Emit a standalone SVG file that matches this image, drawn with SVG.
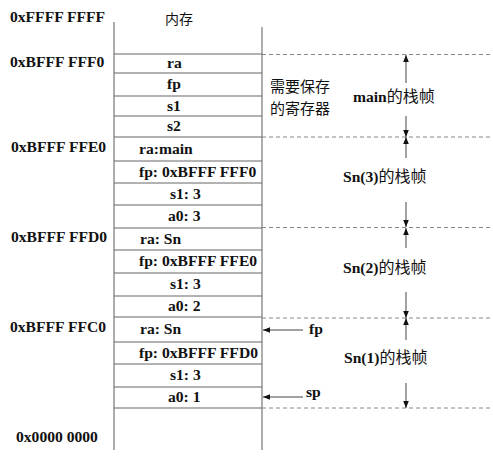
<svg xmlns="http://www.w3.org/2000/svg" width="493" height="457" viewBox="0 0 493 457">
<defs>
<style>
.t{font-family:"Liberation Serif","Noto Sans CJK SC",serif;font-size:15.6px;font-weight:bold;fill:#111}
.c{font-family:"Noto Sans CJK SC",serif;font-weight:normal;fill:#111}
.v{stroke:#777;stroke-width:1.2;fill:none}
.h{stroke:#666;stroke-width:1;fill:none}
.d{stroke:#888;stroke-width:1;stroke-dasharray:4,3;fill:none}
.a{stroke:#444;stroke-width:1;fill:none}
</style>
<marker id="ah" viewBox="0 0 10 10" refX="10" refY="5" markerWidth="7" markerHeight="7" orient="auto-start-reverse" markerUnits="userSpaceOnUse">
<path d="M0,1 L10,5 L0,9 Z" fill="#111"/>
</marker>
</defs>
<rect width="493" height="457" fill="#fff"/>
<g id="memory">
<line class="v" x1="114" y1="22" x2="114" y2="450"/>
<line class="v" x1="262" y1="27" x2="262" y2="450"/>
<g class="h">
<line x1="114" y1="54" x2="262" y2="54"/>
<line x1="114" y1="73" x2="262" y2="73"/>
<line x1="114" y1="96" x2="262" y2="96"/>
<line x1="114" y1="116" x2="262" y2="116"/>
<line x1="114" y1="137" x2="262" y2="137"/>
<line x1="114" y1="161" x2="262" y2="161"/>
<line x1="114" y1="183" x2="262" y2="183"/>
<line x1="114" y1="205" x2="262" y2="205"/>
<line x1="114" y1="228" x2="262" y2="228"/>
<line x1="114" y1="250" x2="262" y2="250"/>
<line x1="114" y1="273" x2="262" y2="273"/>
<line x1="114" y1="296" x2="262" y2="296"/>
<line x1="114" y1="317" x2="262" y2="317"/>
<line x1="114" y1="342" x2="262" y2="342"/>
<line x1="114" y1="364" x2="262" y2="364"/>
<line x1="114" y1="387" x2="262" y2="387"/>
<line x1="114" y1="408" x2="262" y2="408"/>
</g>
<text class="t c" x="165" y="24" style="font-size:14px">内存</text>
</g>
<g id="addresses">
<text class="t" x="10" y="22">0xFFFF FFFF</text>
<text class="t" x="10" y="67">0xBFFF FFF0</text>
<text class="t" x="11" y="152">0xBFFF FFE0</text>
<text class="t" x="11" y="242">0xBFFF FFD0</text>
<text class="t" x="10" y="332">0xBFFF FFC0</text>
<text class="t" x="16" y="442">0x0000 0000</text>
</g>
<g id="cells">
<text class="t" x="167" y="68">ra</text>
<text class="t" x="167" y="89">fp</text>
<text class="t" x="167" y="111">s1</text>
<text class="t" x="167" y="131">s2</text>
<text class="t" x="139" y="154">ra:main</text>
<text class="t" x="139" y="177">fp: 0xBFFF FFF0</text>
<text class="t" x="170" y="199">s1: 3</text>
<text class="t" x="168" y="221">a0: 3</text>
<text class="t" x="140" y="244">ra: Sn</text>
<text class="t" x="139" y="266">fp: 0xBFFF FFE0</text>
<text class="t" x="170" y="289">s1: 3</text>
<text class="t" x="168" y="311">a0: 2</text>
<text class="t" x="140" y="334">ra: Sn</text>
<text class="t" x="139" y="358">fp: 0xBFFF FFD0</text>
<text class="t" x="170" y="380">s1: 3</text>
<text class="t" x="168" y="402">a0: 1</text>
</g>
<g id="saved-registers">
<text class="t c" x="270" y="92" style="font-size:15px">需要保存</text>
<text class="t c" x="270" y="114" style="font-size:15px">的寄存器</text>
</g>
<g id="frames">
<text class="t" x="353" y="102">main<tspan class="c" font-size="16">的栈帧</tspan></text>
<text class="t" x="343" y="182">Sn(3)<tspan class="c" font-size="16">的栈帧</tspan></text>
<text class="t" x="343" y="273">Sn(2)<tspan class="c" font-size="16">的栈帧</tspan></text>
<text class="t" x="344" y="363">Sn(1)<tspan class="c" font-size="16">的栈帧</tspan></text>
</g>
<g id="pointers">
<text class="t" x="309" y="334">fp</text>
<text class="t" x="306" y="397">sp</text>
</g>
<g id="connectors">
<g class="d">
<line x1="262" y1="54.5" x2="492" y2="54.5"/>
<line x1="262" y1="137" x2="492" y2="137"/>
<line x1="262" y1="227.5" x2="492" y2="227.5"/>
<line x1="262" y1="318" x2="492" y2="318"/>
<line x1="262" y1="408" x2="492" y2="408"/>
</g>
<g class="a">
<line x1="406" y1="83" x2="406" y2="55" marker-end="url(#ah)"/>
<line x1="406" y1="116" x2="406" y2="137" marker-end="url(#ah)"/>
<line x1="406" y1="158" x2="406" y2="137" marker-end="url(#ah)"/>
<line x1="406" y1="202" x2="406" y2="227" marker-end="url(#ah)"/>
<line x1="406" y1="248" x2="406" y2="228" marker-end="url(#ah)"/>
<line x1="406" y1="292" x2="406" y2="318" marker-end="url(#ah)"/>
<line x1="406" y1="340" x2="406" y2="318" marker-end="url(#ah)"/>
<line x1="406" y1="383" x2="406" y2="408" marker-end="url(#ah)"/>
<line x1="303" y1="330" x2="263" y2="330" marker-end="url(#ah)"/>
<line x1="303" y1="397" x2="263" y2="397" marker-end="url(#ah)"/>
</g>
</g>
</svg>
